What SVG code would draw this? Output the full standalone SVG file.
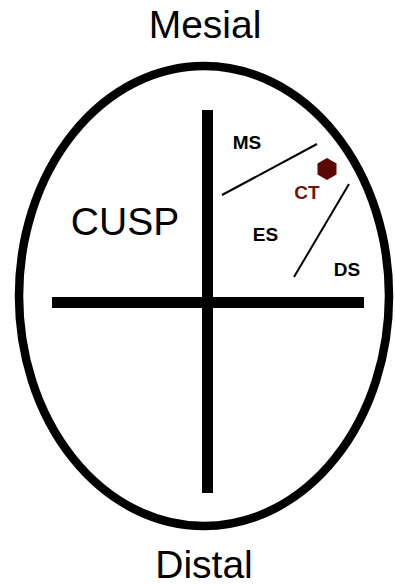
<svg xmlns="http://www.w3.org/2000/svg" width="395" height="585" viewBox="0 0 395 585">
<style>
.big{font-family:"Liberation Sans",Arial,sans-serif;font-size:39px;fill:#000}
.lbl{font-family:"Liberation Sans",Arial,sans-serif;font-size:19px;font-weight:bold;fill:#000}
.thick{stroke:#000;stroke-width:11;fill:none}
.thin{stroke:#000;stroke-width:2;fill:none}
</style>
<rect width="395" height="585" fill="#fff"/>
<g id="outline">
<ellipse cx="204" cy="296" rx="185" ry="230" fill="none" stroke="#000" stroke-width="8.5"/>
</g>
<g id="axes">
<line class="thick" x1="207.5" y1="110" x2="207.5" y2="493"/>
<line class="thick" x1="52" y1="302.5" x2="364" y2="302.5"/>
</g>
<g id="connectors">
<line class="thin" x1="222" y1="195" x2="317" y2="144"/>
<line class="thin" x1="349" y1="184" x2="294" y2="277"/>
</g>
<g id="mesial"><text class="big" x="205" y="38" text-anchor="middle">Mesial</text></g>
<g id="distal"><text class="big" x="204" y="578" text-anchor="middle">Distal</text></g>
<g id="cusp"><text class="big" x="125" y="235" text-anchor="middle">CUSP</text></g>
<g id="ms"><text class="lbl" x="247" y="149" text-anchor="middle">MS</text></g>
<g id="es"><text class="lbl" x="265.5" y="240.5" text-anchor="middle">ES</text></g>
<g id="ds"><text class="lbl" x="347" y="275.5" text-anchor="middle">DS</text></g>
<g id="ct">
<polygon points="327,158 336.5,163.5 336.5,174.5 327,180 317.5,174.5 317.5,163.5" fill="#5c0606"/>
<text class="lbl" x="307" y="199" text-anchor="middle" style="fill:#6b1414">CT</text>
</g>
</svg>
